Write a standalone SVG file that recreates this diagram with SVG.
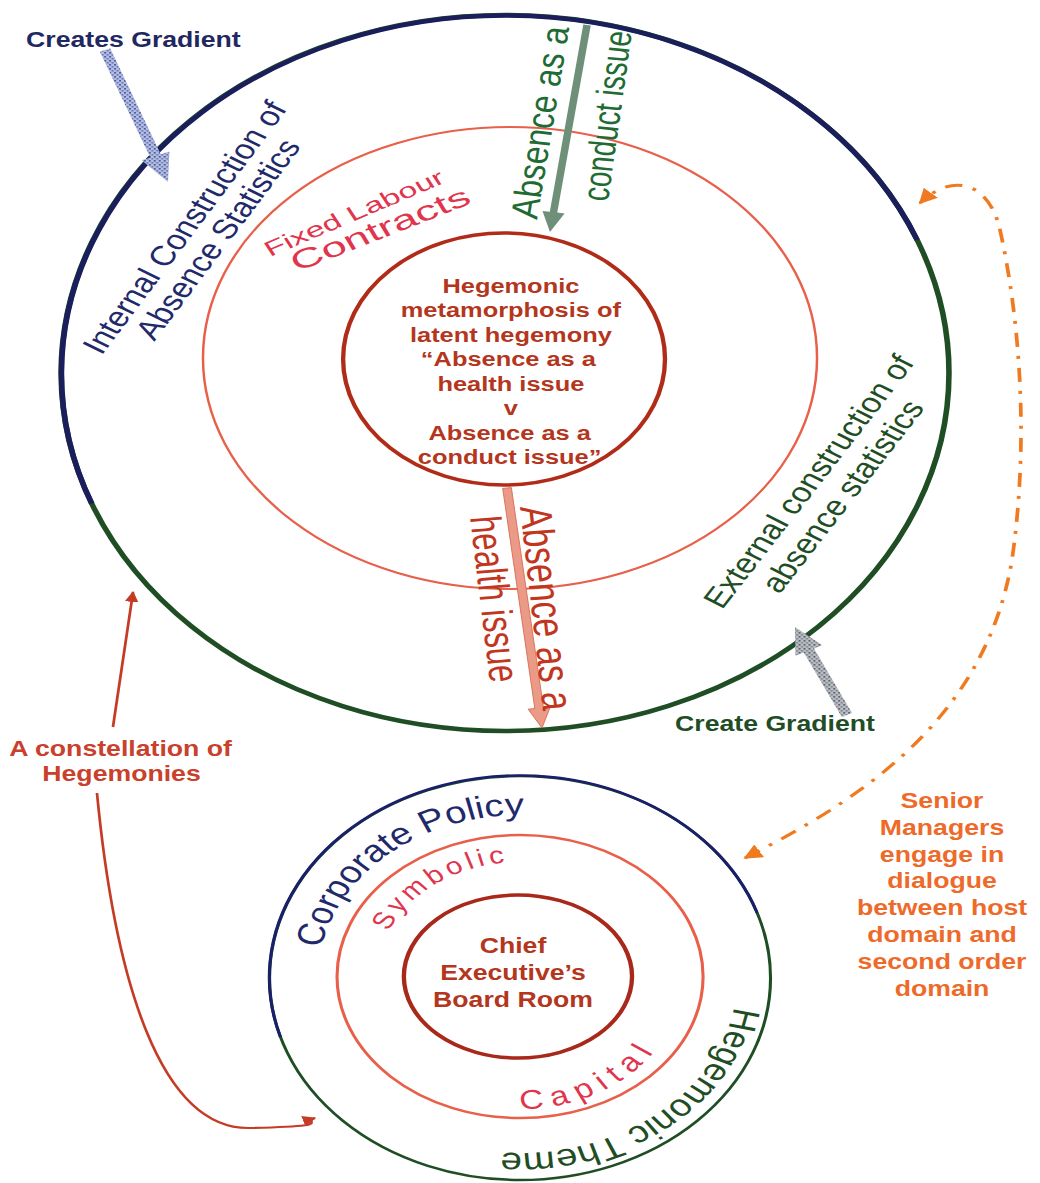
<svg xmlns="http://www.w3.org/2000/svg" width="1040" height="1183" viewBox="0 0 1040 1183">
<defs>
<style>
text { font-family: "Liberation Sans", Arial, sans-serif; }
.b { font-weight: bold; }
.mid { text-anchor: middle; }
.navy { fill: #1f2a6b; }
.green { fill: #1f4d24; }
.core { fill: #b3361d; }
.crim { fill: #e0354d; }
.orange { fill: #ee6a2a; }
.redlbl { fill: #c9402b; }
.ring { fill: none; }
</style>
<pattern id="stipBlue" width="4" height="4" patternUnits="userSpaceOnUse">
<rect width="4" height="4" fill="#b4bde3"/>
<rect x="0" y="0" width="1.6" height="1.6" fill="#4d5c9c"/>
<rect x="2" y="2" width="1.6" height="1.6" fill="#6a78b0"/>
</pattern>
<pattern id="stipGrey" width="4" height="4" patternUnits="userSpaceOnUse">
<rect width="4" height="4" fill="#babec4"/>
<rect x="0" y="0" width="1.6" height="1.6" fill="#5c626b"/>
<rect x="2" y="2" width="1.6" height="1.6" fill="#7a8088"/>
</pattern>
<marker id="redHead" viewBox="0 0 10 10" refX="9" refY="5" markerWidth="5" markerHeight="5" orient="auto-start-reverse">
<path d="M0,0 L10,5 L0,10 z" fill="#c43c26"/>
</marker>
<marker id="orangeHead" viewBox="0 0 10 10" refX="9" refY="5" markerWidth="5" markerHeight="5" orient="auto-start-reverse">
<path d="M0,0 L10,5 L0,10 z" fill="#f07a20"/>
</marker>
<path id="pCorp" d="M 256.4 978 A 163 163 0 0 1 582.4 978" fill="none"/>
<path id="pSym" d="M 303.4 978 A 116 116 0 0 1 535.4 978" fill="none"/>
<path id="pCap" d="M 288.4 978 A 131 131 0 0 0 550.4 978" fill="none"/>
<path id="pHeg" d="M 594.4 978 A 175 175 0 0 1 244.4 978" fill="none"/>
</defs>
<rect width="1040" height="1183" fill="#ffffff"/>
<g transform="scale(1.24,1)">

<g id="host-domain">
<circle cx="407.3" cy="373" r="358" class="ring" stroke="#1f4d24" stroke-width="4.5"/>
<path d="M 74 503.6 A 358 358 0 0 1 739.7 240" class="ring" stroke="#1a1f5c" stroke-width="4.5"/>
<g transform="translate(156.9,232.5) rotate(-58.7)" class="navy" font-size="28">
<text class="mid" x="0" y="0">Internal Construction of</text>
<text class="mid" x="4" y="29">Absence Statistics</text>
</g>
<g transform="translate(660.1,486.5) rotate(-57.8)" class="green" font-size="28">
<text class="mid" x="0" y="0">External construction of</text>
<text class="mid" x="2" y="31">absence statistics</text>
</g>
</g>

<g id="fixed-labour-contracts">
<ellipse cx="411.3" cy="358" rx="247.6" ry="231" class="ring" stroke="#e8604a" stroke-width="2"/>
<text class="crim" transform="translate(217.7,257) rotate(-27.8)" font-size="21" textLength="161" lengthAdjust="spacingAndGlyphs">Fixed Labour</text>
<text class="crim" transform="translate(239.5,272) rotate(-26)" font-size="27" textLength="158" lengthAdjust="spacingAndGlyphs">Contracts</text>
</g>

<g id="hegemonic-metamorphosis">
<ellipse cx="406.5" cy="359" rx="129.8" ry="126" class="ring" stroke="#b02c18" stroke-width="3.5"/>
<g class="b mid core" font-size="20.5">
<text x="412" y="293">Hegemonic</text>
<text x="412" y="317.5">metamorphosis of</text>
<text x="412" y="342">latent hegemony</text>
<text x="410" y="366.5">“Absence as a</text>
<text x="412" y="391">health issue</text>
<text x="412" y="415.5">v</text>
<text x="411" y="440">Absence as a</text>
<text x="411" y="464.5">conduct issue”</text>
</g>
</g>

<g id="second-order-domain">
<circle cx="419.4" cy="978" r="202" class="ring" stroke="#1f4d24" stroke-width="2.5"/>
<path d="M 226.2 1037.1 A 202 202 0 0 1 610.6 912.9" class="ring" stroke="#1a1f6b" stroke-width="2.5"/>
<text class="navy" font-size="31"><textPath href="#pCorp" startOffset="30">Corporate Policy</textPath></text>
<text class="green" font-size="31"><textPath href="#pHeg" startOffset="29">Hegemonic Theme</textPath></text>
</g>

<g id="symbolic-capital">
<ellipse cx="419.4" cy="976.5" rx="147.6" ry="141.5" class="ring" stroke="#e8604a" stroke-width="2.5"/>
<text class="crim" font-size="24" letter-spacing="3.5"><textPath href="#pSym" startOffset="48">Symbolic</textPath></text>
<text class="crim" font-size="27" letter-spacing="7"><textPath href="#pCap" startOffset="206">Capital</textPath></text>
</g>

<g id="board-room">
<ellipse cx="417.7" cy="976.5" rx="92" ry="81.5" class="ring" stroke="#a8281a" stroke-width="3.5"/>
<g class="b mid core" font-size="21.5">
<text x="413.7" y="953">Chief</text>
<text x="413.7" y="980">Executive’s</text>
<text x="413.7" y="1007">Board Room</text>
</g>
</g>

<g id="label-creates-gradient">
<text class="b" x="21" y="47" font-size="21.5" fill="#1f2860">Creates Gradient</text>
</g>
<g id="label-create-gradient">
<text class="b" x="544.4" y="731" font-size="21.5" fill="#1e4d26">Create Gradient</text>
</g>
<g id="label-constellation">
<g class="b mid redlbl" font-size="21.5">
<text x="97.3" y="756">A constellation of</text>
<text x="98" y="781">Hegemonies</text>
</g>
</g>
<g id="label-senior-managers">
<g class="b mid orange" font-size="21.5">
<text x="759.7" y="808">Senior</text>
<text x="759.7" y="834.8">Managers</text>
<text x="759.7" y="861.6">engage in</text>
<text x="759.7" y="888.4">dialogue</text>
<text x="759.7" y="915.2">between host</text>
<text x="759.7" y="942">domain and</text>
<text x="759.7" y="968.8">second order</text>
<text x="759.7" y="995.6">domain</text>
</g>
</g>

<g id="connectors">
<polygon points="80.5,51.6 88.9,48.4 129.6,154.3 136.6,151.6 135.5,182 114.2,160.2 121.2,157.5" fill="url(#stipBlue)"/>
<polygon points="687.1,713.1 678.9,716.9 648.2,652.4 641.5,655.7 641.1,627 663.1,645.3 656.4,648.6" fill="url(#stipGrey)"/>
<polygon points="470.4,24.6 476.4,25.4 449.4,212.6 455.3,213.5 443.5,232 437.5,210.9 443.4,211.8" fill="#6f9078"/>
<polygon points="405.4,488.4 412.4,487.6 438.3,707.7 443.7,707 437.1,728 425.9,709.2 431.3,708.5" fill="#eb9a88" stroke="#d86a55" stroke-width="0.8"/>
<line x1="91.1" y1="727" x2="107.3" y2="592" stroke="#c43c26" stroke-width="2.2" marker-end="url(#redHead)"/>
<path d="M 78.2 793 C 92.7 980, 129 1130, 201.6 1128 S 242 1122, 254 1118" fill="none" stroke="#c43c26" stroke-width="2.2" marker-end="url(#redHead)"/>
<path d="M 600.8 858 C 693.5 800, 794.4 720, 816.1 560 C 829 450, 824.2 330, 806.5 230 C 798.4 185, 770.2 170, 741.9 203" fill="none" stroke="#f07a20" stroke-width="3" stroke-dasharray="14 9 3 9" marker-start="url(#orangeHead)" marker-end="url(#orangeHead)"/>
</g>

<g id="gradient-and-absence-labels">
<text fill="#1f6b34" transform="translate(433.1,220) rotate(-82.3)" font-size="31" textLength="194" lengthAdjust="spacingAndGlyphs">Absence as a</text>
<text fill="#1f6b34" transform="translate(490.3,202) rotate(-83.5)" font-size="31" textLength="171" lengthAdjust="spacingAndGlyphs">conduct issue</text>
<text fill="#c0361e" transform="translate(419.4,507) rotate(84.8)" font-size="36" textLength="205" lengthAdjust="spacingAndGlyphs">Absence as a</text>
<text fill="#c0361e" transform="translate(379,517) rotate(84.4)" font-size="35" textLength="167" lengthAdjust="spacingAndGlyphs">health issue</text>
</g>

</g>
</svg>
